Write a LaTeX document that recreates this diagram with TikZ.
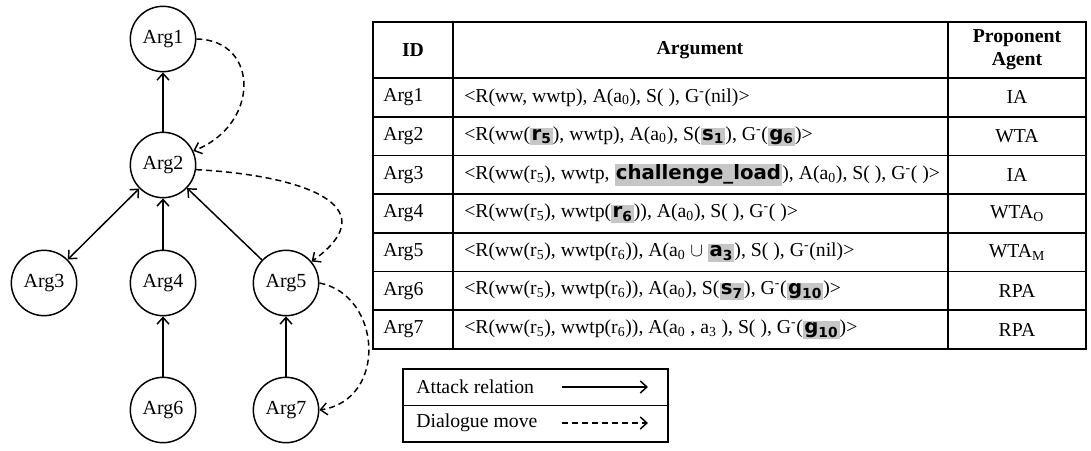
\documentclass[tikz,border=0pt]{standalone}
\usepackage{fontspec}
\setmainfont{Liberation Serif}
\newfontfamily\hlfont{DejaVu Sans}
\usetikzlibrary{positioning,arrows.meta}

\newcommand{\hlbox}[1]{{\setlength{\fboxsep}{1pt}\colorbox{gray!45}{\hlfont\bfseries #1}}}
\newcommand{\gm}{G\textsuperscript{-}}
\newcommand{\sub}[1]{\textsubscript{#1}}

\tikzset{
    >={Straight Barb[length=5pt,width=9pt]},
    arg/.style={circle, draw, line width=1.1pt, minimum size=49pt, inner sep=0pt, font=\fontsize{15}{17}\selectfont},
    cell/.style={inner sep=0pt, font=\fontsize{14.8}{17}\selectfont},
    attack/.style={->, line width=1.1pt},
    move/.style={->, dash pattern=on 4.5pt off 3pt, line width=1.1pt},
    grid/.style={line width=1.2pt}
}

\begin{document}
\begin{tikzpicture}[x=0.75pt, y=-0.75pt]
        \useasboundingbox (0,0) rectangle (1091,450);

        % Argumentos
        \node[arg] (a1) at (163,39) {Arg1};
        \node[arg] (a2) at (163,165) {Arg2};
        \node[arg] (a3) at (44,283) {Arg3};
        \node[arg] (a4) at (163,283) {Arg4};
        \node[arg] (a5) at (286,283) {Arg5};
        \node[arg] (a6) at (163,410) {Arg6};
        \node[arg] (a7) at (286,410) {Arg7};

        % Ataques
        \draw[attack] (a2) -- (a1);
        \draw[attack, <->] (a2) -- (a3);
        \draw[attack] (a4) -- (a2);
        \draw[attack] (a5) -- (a2);
        \draw[attack] (a6) -- (a4);
        \draw[attack] (a7) -- (a5);

        % Movimentos de dialogo
        \draw[move] (a1.east) .. controls (260,40) and (260,125) .. (a2.25);
        \draw[move] (a2.-8) .. controls (300,175) and (390,205) .. (a5.40);
        \draw[move] (a5.east) .. controls (382,295) and (388,400) .. (a7.east);

        % Tabela
        \draw[grid] (373,22) rectangle (1086,349);
        \draw[grid] (453,22) -- (453,349);
        \draw[grid] (948,22) -- (948,349);
        \foreach \k in {0,...,6} {
            \draw[grid] (373,78+38.7*\k) -- (1086,78+38.7*\k);
        }

        % Cabecalho
        \node[cell, font=\fontsize{14.8}{17}\selectfont\bfseries] (hid) at (413,50) {ID};
        \node[cell, font=\fontsize{14.8}{17}\selectfont\bfseries] (harg) at (700,50) {Argument};
        \node[cell, font=\fontsize{14.8}{17}\selectfont\bfseries, align=center] (hag) at (1017,50) {Proponent\\Agent};

        % Linhas da tabela
        \foreach \i/\txt/\ag in {
            1/{<R(ww, wwtp), A(a\sub{0}), S( ), \gm(nil)>}/IA,
            2/{<R(ww(\hlbox{r\sub{5}}), wwtp), A(a\sub{0}), S(\hlbox{s\sub{1}}), \gm(\hlbox{g\sub{6}})>}/WTA,
            3/{<R(ww(r\sub{5}), wwtp, \hlbox{challenge\_load}), A(a\sub{0}), S( ), \gm( )>}/IA,
            4/{<R(ww(r\sub{5}), wwtp(\hlbox{r\sub{6}})), A(a\sub{0}), S( ), \gm( )>}/{WTA\sub{O}},
            5/{<R(ww(r\sub{5}), wwtp(r\sub{6})), A(a\sub{0} $\cup$ \hlbox{a\sub{3}}), S( ), \gm(nil)>}/{WTA\sub{M}},
            6/{<R(ww(r\sub{5}), wwtp(r\sub{6})), A(a\sub{0}), S(\hlbox{s\sub{7}}), \gm(\hlbox{g\sub{10}})>}/RPA,
            7/{<R(ww(r\sub{5}), wwtp(r\sub{6})), A(a\sub{0} , a\sub{3} ), S( ), \gm(\hlbox{g\sub{10}})>}/RPA} {
            \node[cell, anchor=west] (id\i) at (383,58.65+38.7*\i) {Arg\i};
            \node[cell, anchor=west] (arg\i) at (464,58.65+38.7*\i) {\txt};
            \node[cell] (ag\i) at (1017,58.65+38.7*\i) {\ag};
        }

        % Legenda
        \draw[grid] (403,369) rectangle (668,442);
        \draw[grid] (403,405.5) -- (668,405.5);
        \node[cell, anchor=west] (lat) at (416,387) {Attack relation};
        \node[cell, anchor=west] (lmv) at (416,423) {Dialogue move};
        \coordinate (lat1) at (562,387);
        \coordinate (lat2) at (648,387);
        \coordinate (lmv1) at (562,423);
        \coordinate (lmv2) at (648,423);
        \draw[attack] (lat1) -- (lat2);
        \draw[move] (lmv1) -- (lmv2);
\end{tikzpicture}
\end{document}
